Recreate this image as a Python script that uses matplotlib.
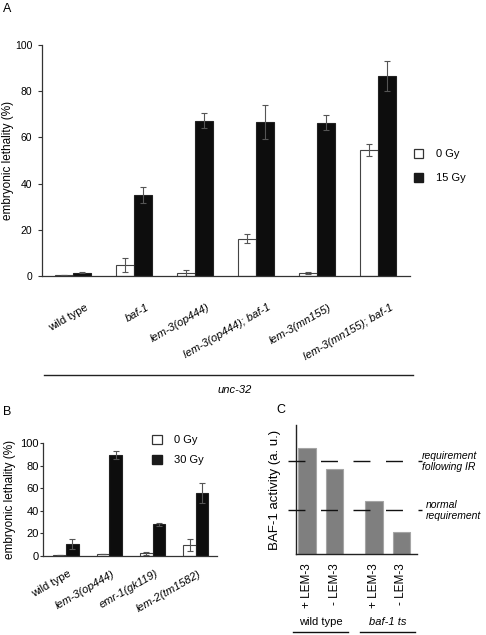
import numpy as np
import matplotlib
matplotlib.use("Agg")
import matplotlib.pyplot as plt
from matplotlib.patches import Patch

plt.rcParams['font.family'] = ['Liberation Sans', 'DejaVu Sans']

# ---- data ----
# panel A
strains_a = ["wild type", "baf-1", "lem-3(op444)", "lem-3(op444); baf-1",
             "lem-3(mn155)", "lem-3(mn155); baf-1"]
a_0gy = [0.4, 4.8, 1.2, 16.2, 1.2, 54.4]
a_0gy_err = [0.1, 2.9, 1.4, 1.9, 0.4, 2.6]
a_15gy = [1.4, 35.1, 67.2, 66.7, 66.4, 86.4]
a_15gy_err = [0.2, 3.3, 3.2, 7.2, 3.4, 6.5]

# panel B
strains_b = ["wild type", "lem-3(op444)", "emr-1(gk119)", "lem-2(tm1582)"]
b_0gy = [1.2, 1.5, 2.4, 9.7]
b_0gy_err = [0.1, 0.1, 1.2, 5.3]
b_30gy = [10.6, 89.4, 28.0, 55.5]
b_30gy_err = [4.1, 3.2, 1.5, 8.8]

# panel C (schematic)
c_groups = ["wild type", "baf-1 ts"]
c_labels = ["+ LEM-3", "- LEM-3", "+ LEM-3", "- LEM-3"]
c_activity = [82, 66, 41.3, 16.7]
req_ir = 71.8
req_normal = 33.8

W, H = 486, 635
fig = plt.figure(figsize=(W / 100, H / 100), dpi=100)


def px(left, top, right, bottom):
    return [left / W, 1 - bottom / H, (right - left) / W, (bottom - top) / H]


def style_bar_axes(ax, fs):
    for s in ["top", "right"]:
        ax.spines[s].set_visible(False)
    for s in ["left", "bottom"]:
        ax.spines[s].set_color("#333333")
        ax.spines[s].set_linewidth(0.9)
    ax.set_ylim(0, 100)
    ax.set_yticks(np.arange(0, 101, 20))
    ax.tick_params(axis="x", length=0)
    ax.tick_params(axis="y", labelsize=fs, color="#333333")


white_kw = dict(color="white", edgecolor="#444444", linewidth=0.8)
black_kw = dict(color="#0d0d0d", edgecolor="#222222", linewidth=0.8)
err_kw = dict(ecolor="#555555", elinewidth=0.8, capsize=2.2, capthick=0.8)

# ---- panel A ----
axA = fig.add_axes(px(42, 45, 410, 276))
style_bar_axes(axA, 7.5)
axA.tick_params(axis="y", length=3, pad=4)
x = np.arange(len(strains_a))
bw = 0.295
axA.bar(x - bw / 2, a_0gy, bw, yerr=a_0gy_err, error_kw=err_kw, **white_kw)
axA.bar(x + bw / 2, a_15gy, bw, yerr=a_15gy_err, error_kw=err_kw, **black_kw)
axA.set_xlim(-0.508, 5.525)
axA.set_xticks(x + 0.19)
axA.set_xticklabels(strains_a, fontsize=8)
axA.tick_params(axis="x", pad=19)
for lab in axA.get_xticklabels():
    lab.set_rotation(30)
    lab.set_ha("right")
    lab.set_va("top")
    lab.set_rotation_mode("anchor")
    if lab.get_text() != "wild type":
        lab.set_fontstyle("italic")
axA.set_ylabel("embryonic lethality (%)", fontsize=8.5, labelpad=1)
axA.plot([0.005, 1.008], [-0.4286, -0.4286], transform=axA.transAxes,
         color="#222222", lw=1.0, clip_on=False)
axA.text(0.524, -0.4935, "unc-32", transform=axA.transAxes, ha="center",
         va="center", fontsize=8, style="italic")
axA.legend(handles=[Patch(facecolor="white", edgecolor="#333333", lw=0.9, label="0 Gy"),
                    Patch(facecolor="#1a1a1a", edgecolor="#1a1a1a", label="15 Gy")],
           loc="upper left", bbox_to_anchor=(414 / W, 1 - 149 / H),
           bbox_transform=fig.transFigure, frameon=False, fontsize=8,
           handlelength=0.8, handleheight=0.8, handletextpad=1.2,
           labelspacing=1.25, borderpad=0, borderaxespad=0)
fig.text(3 / W, 1 - 3 / H, "A", fontsize=9, ha="left", va="top")

# ---- panel B ----
axB = fig.add_axes(px(43, 443, 217, 556))
style_bar_axes(axB, 8)
axB.tick_params(axis="y", length=2, pad=1)
xb = np.arange(len(strains_b))
bwb = 0.29
axB.bar(xb - bwb / 2, b_0gy, bwb, yerr=b_0gy_err, error_kw=err_kw, **white_kw)
axB.bar(xb + bwb / 2, b_30gy, bwb, yerr=b_30gy_err, error_kw=err_kw, **black_kw)
axB.set_xlim(-0.531, 3.487)
axB.set_xticks(xb + 0.05)
axB.set_xticklabels(strains_b, fontsize=8)
axB.tick_params(axis="x", pad=9)
for lab in axB.get_xticklabels():
    lab.set_rotation(30)
    lab.set_ha("right")
    lab.set_va("top")
    lab.set_rotation_mode("anchor")
    if lab.get_text() != "wild type":
        lab.set_fontstyle("italic")
axB.set_ylabel("embryonic lethality (%)", fontsize=8.5, labelpad=3)
axB.legend(handles=[Patch(facecolor="white", edgecolor="#333333", lw=0.9, label="0 Gy"),
                    Patch(facecolor="#1a1a1a", edgecolor="#1a1a1a", label="30 Gy")],
           loc="upper left", bbox_to_anchor=(152 / W, 1 - 435 / H),
           bbox_transform=fig.transFigure, frameon=False, fontsize=8,
           handlelength=0.9, handleheight=0.9, handletextpad=1.1,
           labelspacing=0.85, borderpad=0, borderaxespad=0)
fig.text(3 / W, 1 - 406 / H, "B", fontsize=9, ha="left", va="top")

# ---- panel C ----
axC = fig.add_axes(px(296, 425, 417, 554))
for s in ["top", "right"]:
    axC.spines[s].set_visible(False)
for s in ["left", "bottom"]:
    axC.spines[s].set_color("#222222")
    axC.spines[s].set_linewidth(1.0)
group_gap = 2.42
xc = np.array([g * group_gap + k for g in range(len(c_groups)) for k in range(2)])
axC.bar(xc, c_activity, 0.636, color="#7f7f7f", edgecolor="#a5a5a5", linewidth=0.8)
axC.set_xlim(-0.407, 3.99)
axC.set_ylim(0, 100)
axC.set_yticks([])
axC.set_xticks(xc)
axC.set_xticklabels(c_labels, rotation=90, fontsize=8.5, va="top", ha="center")
axC.tick_params(axis="x", length=0, pad=7)
axC.set_ylabel("BAF-1 activity (a. u.)", fontsize=9.5, labelpad=11)
for yv in [req_ir, req_normal]:
    axC.plot([-0.698, 4.17], [yv, yv], color="#111111", lw=1.0,
             linestyle=(0, (12.2, 11.2)), clip_on=False, zorder=3)
axC.text(4.17, req_ir, "requirement\nfollowing IR", fontsize=7.5, style="italic",
         ha="left", va="center", linespacing=1.15)
axC.text(4.3, req_normal, "normal\nrequirement", fontsize=7.5, style="italic",
         ha="left", va="center", linespacing=1.15)
tr = axC.get_xaxis_transform()
for g, name in enumerate(c_groups):
    cx = g * group_gap + 0.5
    axC.text(cx, -0.527, name, transform=tr, ha="center", va="center",
             fontsize=8, style="italic" if g == 1 else "normal")
    axC.plot([cx - 1.0, cx + 1.0], [-0.605, -0.605], transform=tr,
             color="#111111", lw=1.0, clip_on=False)
fig.text(276 / W, 1 - 404 / H, "C", fontsize=9, ha="left", va="top")

fig.savefig("out.png", dpi=100)
